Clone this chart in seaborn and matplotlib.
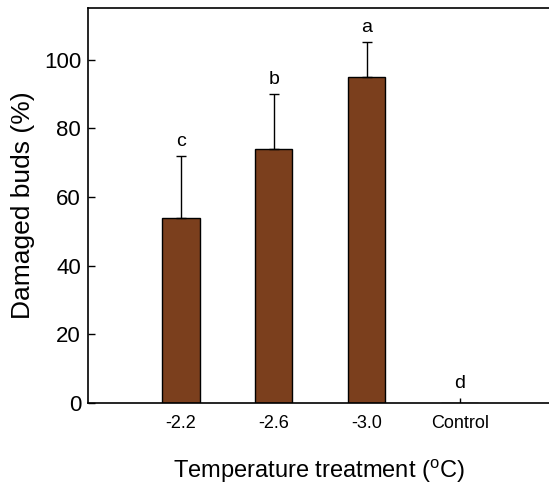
import pandas as pd
import seaborn as sns
import matplotlib
matplotlib.use("Agg")
import matplotlib.pyplot as plt

# data
treatments = ["-2.2", "-2.6", "-3.0", "Control"]
damaged = [54, 74, 95, 0]
errors = [18, 16, 10, 1.5]
letters = ["c", "b", "a", "d"]

df = pd.DataFrame({"treatment": treatments, "damaged": damaged})

sns.set_style("ticks")
plt.rcParams["font.family"] = ["Liberation Sans", "DejaVu Sans"]
plt.rcParams["mathtext.fontset"] = "custom"
plt.rcParams["mathtext.rm"] = "Liberation Sans"
plt.rcParams["text.color"] = "black"
plt.rcParams["axes.labelcolor"] = "black"
plt.rcParams["xtick.color"] = "black"
plt.rcParams["ytick.color"] = "black"

fig = plt.figure(figsize=(5.49, 4.84), dpi=100)
ax = fig.add_axes([88 / 549, 1 - 403 / 484, (549 - 88) / 549, (403 - 8) / 484])

sns.barplot(data=df, x="treatment", y="damaged", color="#7B3F1D",
            saturation=1, width=0.4, edgecolor="black", linewidth=1,
            errorbar=None, ax=ax)

# one-sided error bars (control has no cap)
x = list(range(len(treatments)))
ax.errorbar(x[:3], damaged[:3], yerr=[[0] * 3, errors[:3]],
            fmt="none", ecolor="black", elinewidth=1, capsize=3.6, capthick=1)
ax.errorbar(x[3:], damaged[3:], yerr=[[0], errors[3:]],
            fmt="none", ecolor="black", elinewidth=1, capsize=0)

for i, (v, e, lab) in enumerate(zip(damaged, errors, letters)):
    ax.text(i, v + e + 1.8, lab, ha="center", va="bottom", fontsize=14)

ax.set_xlim(-1, 3.96)
ax.set_ylim(0, 115)
ax.set_yticks([0, 20, 40, 60, 80, 100])
ax.tick_params(axis="y", direction="in", length=5, width=1, labelsize=16, pad=5)
ax.tick_params(axis="x", length=0, labelsize=13, pad=9)
for s in ["left", "bottom", "top"]:
    ax.spines[s].set_visible(True)
    ax.spines[s].set_linewidth(1.2)
    ax.spines[s].set_color("black")
ax.spines["right"].set_visible(False)

ax.set_xlabel("Temperature treatment ($^{\\mathrm{o}}$C)", fontsize=17, labelpad=18)
ax.set_ylabel("Damaged buds (%)", fontsize=19, labelpad=6)

fig.savefig("out.png", dpi=100)
